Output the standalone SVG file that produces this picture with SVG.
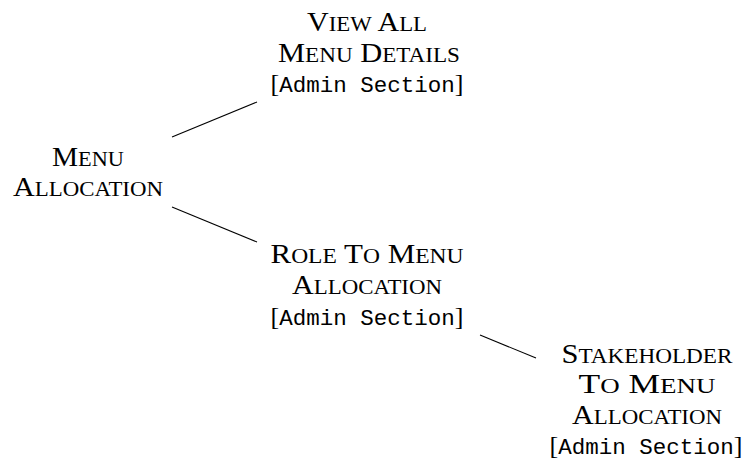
<svg xmlns="http://www.w3.org/2000/svg" width="745" height="461" viewBox="0 0 745 461">
  <style>
    .sc { font-family: "Liberation Serif", "DejaVu Serif", serif; font-size: 27px; fill: #000; text-anchor: middle; }
    .sc .s { font-size: 20.5px; }
    .tt { font-family: "Liberation Mono", "DejaVu Sans Mono", monospace; font-size: 22.5px; fill: #000; }
    .br { font-family: "Liberation Serif", serif; font-size: 26px; fill: #000; }
    .edge { stroke: #000; stroke-width: 1.1; fill: none; }
  </style>
  <rect width="745" height="461" fill="#fff"/>
  <g id="connectors">
    <line class="edge" x1="172" y1="137" x2="257" y2="102"/>
    <line class="edge" x1="172" y1="207" x2="257" y2="242"/>
    <line class="edge" x1="480" y1="335" x2="536" y2="358"/>
  </g>
  <g id="menu-allocation">
    <text class="sc" x="88" y="166" textLength="72" lengthAdjust="spacingAndGlyphs">M<tspan class="s">ENU</tspan></text>
    <text class="sc" x="88" y="196" textLength="150" lengthAdjust="spacingAndGlyphs">A<tspan class="s">LLOCATION</tspan></text>
  </g>
  <g id="view-all-menu-details">
    <text class="sc" x="367" y="31" textLength="120" lengthAdjust="spacingAndGlyphs">V<tspan class="s">IEW</tspan> A<tspan class="s">LL</tspan></text>
    <text class="sc" x="369" y="62" textLength="182" lengthAdjust="spacingAndGlyphs">M<tspan class="s">ENU</tspan> D<tspan class="s">ETAILS</tspan></text>
    <text x="367" y="92" text-anchor="middle"><tspan class="br">[</tspan><tspan class="tt">Admin Section</tspan><tspan class="br">]</tspan></text>
  </g>
  <g id="role-to-menu-allocation">
    <text class="sc" x="367" y="263" textLength="193" lengthAdjust="spacingAndGlyphs">R<tspan class="s">OLE</tspan> T<tspan class="s">O</tspan> M<tspan class="s">ENU</tspan></text>
    <text class="sc" x="367" y="294" textLength="150" lengthAdjust="spacingAndGlyphs">A<tspan class="s">LLOCATION</tspan></text>
    <text x="367" y="325" text-anchor="middle"><tspan class="br">[</tspan><tspan class="tt">Admin Section</tspan><tspan class="br">]</tspan></text>
  </g>
  <g id="stakeholder-to-menu-allocation">
    <text class="sc" x="647" y="363" textLength="171" lengthAdjust="spacingAndGlyphs">S<tspan class="s">TAKEHOLDER</tspan></text>
    <text class="sc" x="647" y="393" textLength="137" lengthAdjust="spacingAndGlyphs">T<tspan class="s">O</tspan> M<tspan class="s">ENU</tspan></text>
    <text class="sc" x="647" y="424" textLength="150" lengthAdjust="spacingAndGlyphs">A<tspan class="s">LLOCATION</tspan></text>
    <text x="646" y="454" text-anchor="middle"><tspan class="br">[</tspan><tspan class="tt">Admin Section</tspan><tspan class="br">]</tspan></text>
  </g>
</svg>
